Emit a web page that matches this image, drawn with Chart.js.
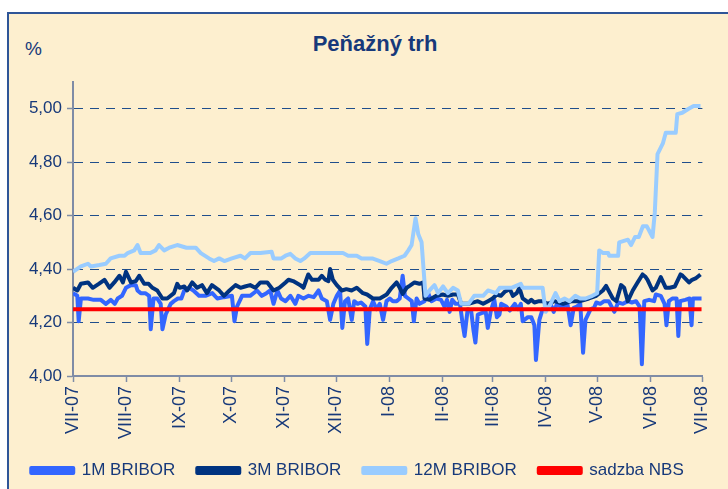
<!DOCTYPE html>
<html lang="sk">
<head>
  <meta charset="UTF-8">
  <title>Peňažný trh</title>
  <script src="https://cdn.jsdelivr.net/npm/chart.js"></script>
  <style>
    body {
      margin: 0;
      width: 728px;
      height: 489px;
      overflow: hidden;
      position: relative;
      background: #ffffff;
      font-family: 'Liberation Sans', Arial, sans-serif;
      color: #1F3A6E;
    }
    .frame {
      position: absolute;
      left: 7px;
      top: 12px;
      width: 740px;
      height: 500px;
      background: #FDEFCF;
      border: 2px solid #2F5597;
    }
    .title {
      position: absolute;
      left: 275px;
      width: 200px;
      top: 31px;
      text-align: center;
      font-weight: bold;
      font-size: 22px;
      color: #17397A;
    }
    .unit {
      position: absolute;
      left: 25px;
      top: 38px;
      font-size: 19px;
      color: #17397A;
    }
    #chart {
      position: absolute;
      left: 0;
      top: 0;
    }
  </style>
</head>
<body>
  <div class="frame"></div>
  <div class="title">Peňažný trh</div>
  <div class="unit">%</div>
  <canvas id="chart" width="728" height="489"></canvas>

  <script>
    // x = day offset from 1.7.2007
    const monthLabels = ['VII-07', 'VIII-07', 'IX-07', 'X-07', 'XI-07', 'XII-07', 'I-08', 'II-08', 'III-08', 'IV-08', 'V-08', 'VI-08', 'VII-08'];
    const yTickValues = [4.0, 4.2, 4.4, 4.6, 4.8, 5.0];

    // 1M BRIBOR
    const days1M = [0, 2.5, 3.3, 4.6, 8.7, 12, 16.2, 19.1, 22, 24.3, 26, 28.5, 30.8, 33.7, 36.5, 37.5, 39.4, 42, 44.3, 45.2, 46.8, 49, 51, 52, 53.9, 56.8, 58.7, 61, 63, 64.7, 67.5, 70, 73.3, 77, 81, 83.9, 87.8, 92.4, 93.9, 95.4, 98.3, 103, 107, 109.8, 112.5, 114.7, 116.6, 118.9, 121, 123.6, 126.4, 129.3, 131, 134, 137, 140, 142.8, 144.7, 147.6, 149.5, 151.4, 153.4, 155.3, 156.6, 158.2, 160, 162.1, 163.5, 165.5, 167.5, 170, 171.1, 172.6, 174.5, 176.5, 178.4, 180.3, 182.3, 184.2, 186, 188.2, 190, 191.7, 193, 195, 197, 198.2, 199.8, 201.5, 204.4, 206.5, 208.5, 211.3, 214, 216, 217.5, 219, 220.5, 222.5, 225, 226.7, 227.7, 229.5, 231.5, 232.9, 234, 235.4, 237.5, 240, 241.2, 243, 245, 246.5, 248, 249, 252, 254, 256.9, 258.7, 260.4, 261.5, 264.5, 266.5, 268.3, 269.2, 271.2, 273.1, 275, 277.7, 279.5, 281.5, 284.4, 287.5, 289.4, 291.2, 293, 295, 296.6, 298, 301, 303, 304.3, 306.6, 308.9, 311.5, 314.8, 317, 319.8, 322.6, 325, 327.4, 329.5, 330.8, 332.2, 335, 337.9, 338.9, 341.8, 344, 345.1, 346.5, 348.5, 351, 352, 353, 356, 358.5, 359.7, 360.5, 365.5];
    const rates1M = [4.31, 4.30, 4.205, 4.29, 4.29, 4.285, 4.285, 4.27, 4.285, 4.27, 4.29, 4.30, 4.33, 4.34, 4.34, 4.32, 4.31, 4.31, 4.30, 4.175, 4.29, 4.29, 4.27, 4.175, 4.23, 4.27, 4.28, 4.29, 4.29, 4.32, 4.33, 4.32, 4.30, 4.30, 4.31, 4.29, 4.295, 4.30, 4.205, 4.26, 4.30, 4.30, 4.32, 4.30, 4.31, 4.32, 4.27, 4.32, 4.29, 4.28, 4.30, 4.27, 4.30, 4.29, 4.30, 4.295, 4.32, 4.29, 4.28, 4.21, 4.27, 4.30, 4.32, 4.18, 4.28, 4.29, 4.21, 4.28, 4.27, 4.275, 4.26, 4.12, 4.25, 4.28, 4.25, 4.27, 4.21, 4.28, 4.29, 4.28, 4.28, 4.29, 4.375, 4.30, 4.29, 4.28, 4.205, 4.29, 4.27, 4.28, 4.31, 4.28, 4.29, 4.285, 4.26, 4.285, 4.24, 4.285, 4.27, 4.27, 4.19, 4.15, 4.25, 4.245, 4.17, 4.125, 4.23, 4.235, 4.24, 4.18, 4.245, 4.285, 4.22, 4.23, 4.27, 4.26, 4.245, 4.27, 4.25, 4.27, 4.205, 4.22, 4.22, 4.19, 4.06, 4.21, 4.25, 4.245, 4.27, 4.24, 4.27, 4.255, 4.27, 4.19, 4.255, 4.26, 4.27, 4.087, 4.21, 4.25, 4.255, 4.275, 4.27, 4.28, 4.28, 4.24, 4.275, 4.27, 4.28, 4.275, 4.28, 4.26, 4.044, 4.28, 4.285, 4.28, 4.305, 4.30, 4.27, 4.19, 4.28, 4.29, 4.29, 4.15, 4.28, 4.285, 4.29, 4.19, 4.29, 4.29];

    // 3M BRIBOR
    const days3M = [0, 2.5, 4.6, 8.7, 11.5, 15, 18.3, 21.2, 24, 27, 29, 30.8, 33.7, 36.5, 38.5, 41.4, 44, 46.2, 49, 52, 54.8, 58.7, 60.6, 62, 64.7, 66.4, 69.3, 72.2, 75, 77.9, 80.8, 85, 87.8, 91, 94.5, 97.4, 100, 103, 106, 109, 113, 116.6, 120, 123.6, 125.3, 128, 132.2, 134, 136.8, 139, 142.8, 144.7, 146.7, 148.5, 149.5, 151.1, 153.4, 156.3, 159, 162, 165, 168.6, 171, 174.4, 178.4, 182.4, 185.3, 188.2, 190, 191.7, 194, 195.7, 198.6, 201.5, 203.6, 204.4, 207.3, 211.3, 215, 218, 221, 223.8, 225.7, 230, 235.4, 238.5, 241.3, 244, 246.5, 248.8, 251, 254, 255.8, 258, 259.6, 261.5, 264.8, 266.5, 268.3, 271, 273.1, 276, 280, 285, 290, 295, 300, 304.3, 308.1, 310, 313.9, 316, 318.7, 320.5, 322.6, 325.5, 328.3, 331.2, 333, 334.1, 337, 338.9, 341.8, 344.7, 347, 350, 353.3, 354.5, 358.2, 360, 362, 364.9];
    const rates3M = [4.33, 4.32, 4.345, 4.35, 4.33, 4.345, 4.36, 4.33, 4.35, 4.375, 4.35, 4.39, 4.35, 4.355, 4.375, 4.345, 4.345, 4.33, 4.32, 4.29, 4.29, 4.31, 4.345, 4.33, 4.335, 4.32, 4.35, 4.33, 4.34, 4.31, 4.34, 4.32, 4.30, 4.32, 4.34, 4.33, 4.335, 4.34, 4.33, 4.35, 4.35, 4.32, 4.33, 4.35, 4.36, 4.355, 4.34, 4.33, 4.38, 4.36, 4.36, 4.375, 4.36, 4.355, 4.40, 4.36, 4.34, 4.32, 4.325, 4.32, 4.33, 4.31, 4.305, 4.29, 4.29, 4.305, 4.33, 4.35, 4.33, 4.307, 4.33, 4.337, 4.35, 4.345, 4.35, 4.29, 4.285, 4.30, 4.305, 4.30, 4.305, 4.305, 4.27, 4.27, 4.28, 4.27, 4.28, 4.29, 4.305, 4.30, 4.315, 4.325, 4.30, 4.31, 4.33, 4.29, 4.275, 4.285, 4.275, 4.28, 4.28, 4.27, 4.28, 4.27, 4.28, 4.28, 4.29, 4.30, 4.32, 4.337, 4.29, 4.28, 4.34, 4.33, 4.28, 4.32, 4.35, 4.38, 4.37, 4.36, 4.32, 4.33, 4.37, 4.33, 4.33, 4.335, 4.38, 4.375, 4.35, 4.36, 4.365, 4.38];

    // 12M BRIBOR
    const days12M = [0, 4.6, 8.7, 10.4, 15.4, 19.1, 21.9, 27, 30, 31.8, 35.6, 37.5, 39.3, 45, 48, 50, 53, 56, 60.6, 66, 71.4, 74.3, 79.1, 82, 85, 88, 92.4, 97.4, 100, 103.2, 109, 115.5, 116.6, 121.2, 123.6, 126.4, 129.3, 132.2, 134.5, 138, 157, 160, 165, 167.8, 174, 178.4, 182.3, 185.3, 189.2, 192.8, 195, 196.9, 199.2, 200.8, 202.7, 205, 207.3, 210.2, 212.3, 215.2, 218, 221, 223.8, 225.7, 230, 233.3, 238.5, 241.3, 246, 248.1, 255, 260.4, 261.5, 273.1, 274.8, 277.7, 280.6, 282.9, 285.8, 288.7, 292.1, 295, 298, 302, 304.8, 306, 308.3, 311.2, 311.8, 317, 317.6, 322.7, 324.5, 326.8, 329, 331.4, 333.7, 337, 338.3, 339.9, 343, 344.7, 350.5, 351.4, 354.3, 358, 360.9, 364.9];
    const rates12M = [4.39, 4.41, 4.42, 4.41, 4.415, 4.42, 4.44, 4.45, 4.45, 4.46, 4.47, 4.49, 4.46, 4.46, 4.47, 4.49, 4.47, 4.48, 4.49, 4.48, 4.48, 4.46, 4.44, 4.43, 4.44, 4.43, 4.44, 4.45, 4.44, 4.46, 4.46, 4.465, 4.44, 4.44, 4.45, 4.457, 4.44, 4.43, 4.44, 4.46, 4.46, 4.45, 4.45, 4.44, 4.44, 4.43, 4.42, 4.43, 4.44, 4.45, 4.47, 4.49, 4.59, 4.53, 4.50, 4.30, 4.32, 4.34, 4.31, 4.335, 4.31, 4.33, 4.32, 4.27, 4.27, 4.30, 4.30, 4.32, 4.31, 4.33, 4.33, 4.345, 4.33, 4.33, 4.24, 4.27, 4.31, 4.28, 4.29, 4.28, 4.30, 4.29, 4.29, 4.30, 4.31, 4.47, 4.46, 4.46, 4.45, 4.45, 4.50, 4.51, 4.49, 4.52, 4.52, 4.56, 4.56, 4.52, 4.61, 4.83, 4.87, 4.91, 4.91, 4.98, 4.985, 5.00, 5.01, 5.01];

    // sadzba NBS
    const daysNBS = [0, 365.5];
    const ratesNBS = [4.25, 4.25];

    const monthDays = monthLabels.map((_, i) => (Date.UTC(2007, 6 + i, 1) - Date.UTC(2007, 6, 1)) / 864e5);
    const toPoints = (xs, ys) => xs.map((x, i) => ({ x: x, y: ys[i] }));

    const navy = '#17397A';
    const family = "'Liberation Sans', Arial, sans-serif";

    function line(label, xs, ys, color, order) {
      return {
        label: label,
        data: toPoints(xs, ys),
        borderColor: color,
        backgroundColor: color,
        borderWidth: 4,
        pointRadius: 0,
        tension: 0,
        borderJoinStyle: 'round',
        order: order
      };
    }

    new Chart(document.getElementById('chart'), {
      type: 'line',
      data: {
        datasets: [
          line('1M BRIBOR', days1M, rates1M, '#3366FF', 3),
          line('3M BRIBOR', days3M, rates3M, '#003380', 2),
          line('12M BRIBOR', days12M, rates12M, '#99CCFF', 1),
          line('sadzba NBS', daysNBS, ratesNBS, '#FF0000', 0)
        ]
      },
      options: {
        responsive: false,
        animation: false,
        events: [],
        layout: { padding: { left: 8, top: 82, right: 21, bottom: 0 } },
        scales: {
          x: {
            type: 'linear',
            min: 0,
            max: 366,
            afterBuildTicks: scale => { scale.ticks = monthDays.map(v => ({ value: v })); },
            afterFit: scale => { scale.height = 64; },
            ticks: {
              autoSkip: false,
              minRotation: 90,
              maxRotation: 90,
              padding: 4,
              color: navy,
              font: { family: family, size: 18 },
              callback: value => monthLabels[monthDays.indexOf(value)]
            },
            grid: { drawOnChartArea: false, drawTicks: true, tickLength: 6, tickColor: '#7F8CA6', tickWidth: 1.5 },
            border: { color: '#7F8CA6', width: 2 }
          },
          y: {
            min: 4.0,
            max: 5.1,
            afterBuildTicks: scale => { scale.ticks = yTickValues.map(v => ({ value: v })); },
            afterFit: scale => { scale.width = 65; },
            ticks: {
              padding: 5,
              color: navy,
              font: { family: family, size: 17 },
              callback: value => value.toFixed(2).replace('.', ',')
            },
            grid: {
              color: ctx => (ctx.tick && ctx.tick.value === 4.0) ? 'rgba(0,0,0,0)' : '#1F4E8C',
              lineWidth: 1,
              drawTicks: true,
              tickLength: 6,
              tickColor: '#7F8CA6',
              tickWidth: 1.5
            },
            border: { color: '#7F8CA6', width: 2, dash: [9, 7] }
          }
        },
        plugins: {
          title: { display: false },
          tooltip: { enabled: false },
          legend: {
            position: 'bottom',
            labels: {
              sort: (a, b) => a.datasetIndex - b.datasetIndex,
              boxWidth: 42,
              boxHeight: 5,
              padding: 22,
              color: navy,
              font: { family: family, size: 17 }
            }
          }
        }
      }
    });
  </script>
</body>
</html>
